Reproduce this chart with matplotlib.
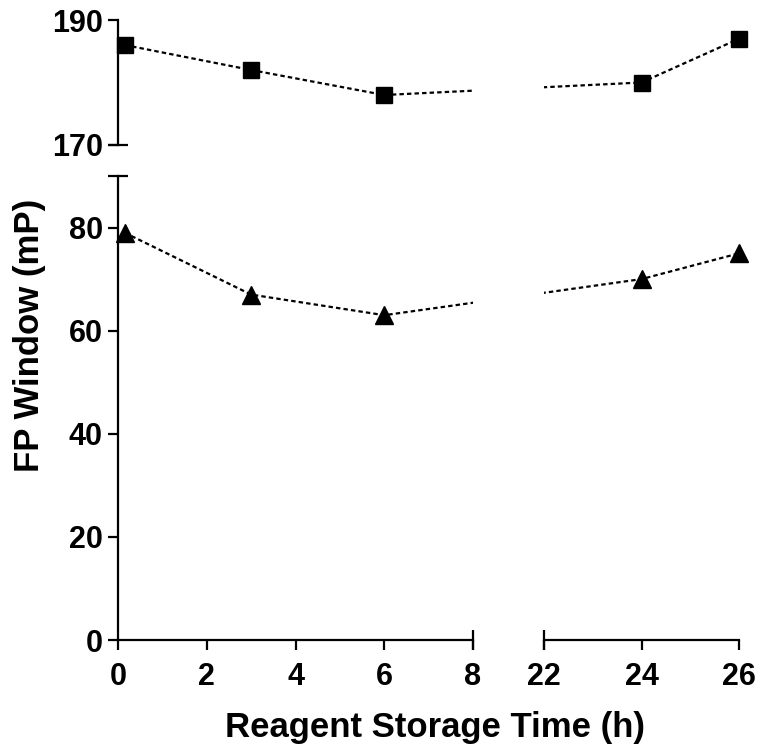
import numpy as np
import matplotlib.pyplot as plt

plt.rcParams['font.family'] = ['Liberation Sans', 'DejaVu Sans']
plt.rcParams['font.weight'] = 'bold'

# data
time_h = [0.15, 3, 6, 24, 26]
fp_square = [186, 182, 178, 180, 187]
fp_triangle = [79, 67, 63, 70, 75]

x_left_ticks = [0, 2, 4, 6, 8]
x_right_ticks = [22, 24, 26]
y_low_ticks = [0, 20, 40, 60, 80]
y_high_ticks = [170, 190]

W, H = 764, 747
fig = plt.figure(figsize=(W / 100, H / 100), dpi=100)


def box(x0, y0, x1, y1):
    # pixel box (from top-left) -> figure fraction
    return [x0 / W, 1 - y1 / H, (x1 - x0) / W, (y1 - y0) / H]


ax_tl = fig.add_axes(box(118, 20, 473, 145))
ax_tr = fig.add_axes(box(544, 20, 739, 145))
ax_bl = fig.add_axes(box(118, 176, 473, 640))
ax_br = fig.add_axes(box(544, 176, 739, 640))

for ax in (ax_tl, ax_bl):
    ax.set_xlim(0, 8)
for ax in (ax_tr, ax_br):
    ax.set_xlim(22, 26)
for ax in (ax_tl, ax_tr):
    ax.set_ylim(170, 190)
for ax in (ax_bl, ax_br):
    ax.set_ylim(0, 90)

for ax in (ax_tl, ax_tr, ax_bl, ax_br):
    for s in ax.spines.values():
        s.set_visible(False)
        s.set_linewidth(1.6)
    ax.xaxis.remove_overlapping_locs = False
    ax.yaxis.remove_overlapping_locs = False
    ax.set_xticks([])
    ax.set_yticks([])

ax_tl.spines['left'].set_visible(True)
ax_tl.set_yticks(y_high_ticks)
ax_tl.set_yticks([170], minor=True)

ax_bl.spines['left'].set_visible(True)
ax_bl.spines['bottom'].set_visible(True)
ax_bl.set_yticks(y_low_ticks)
ax_bl.set_xticks(x_left_ticks)
ax_bl.set_yticks([90], minor=True)
ax_bl.set_xticks([8], minor=True)

ax_br.spines['bottom'].set_visible(True)
ax_br.set_xticks(x_right_ticks)
ax_br.set_xticks([22], minor=True)

for ax in (ax_tl, ax_tr, ax_bl, ax_br):
    ax.tick_params(width=1.6, length=7, labelsize=22, pad=4)
    ax.tick_params(axis='x', pad=9)
    ax.tick_params(which='minor', width=1.6, length=14, direction='inout')
    for lab in ax.get_xticklabels() + ax.get_yticklabels():
        lab.set_fontweight('bold')


def draw(ax_l, ax_r, vals, marker, ms):
    t = np.array(time_h)
    v = np.array(vals)
    lm = t <= 8
    rm = t >= 22
    # continue the dashed line across the gap in screen space
    p_r0 = ax_l.transData.inverted().transform(
        ax_r.transData.transform((t[rm][0], v[rm][0])))
    p_l1 = ax_r.transData.inverted().transform(
        ax_l.transData.transform((t[lm][-1], v[lm][-1])))
    ls = dict(color='black', lw=1.6, linestyle=(0, (2, 1.4)))
    ax_l.plot(list(t[lm]) + [p_r0[0]], list(v[lm]) + [p_r0[1]], **ls)
    ax_r.plot([p_l1[0]] + list(t[rm]), [p_l1[1]] + list(v[rm]), **ls)
    for ax, m in ((ax_l, lm), (ax_r, rm)):
        ax.plot(t[m], v[m], linestyle='none', marker=marker, ms=ms,
                color='black', clip_on=False, zorder=3)


draw(ax_tl, ax_tr, fp_square, 's', 11)
draw(ax_bl, ax_br, fp_triangle, '^', 12.5)

fig.text(435 / W, 1 - 727 / H, 'Reagent Storage Time (h)', ha='center',
         va='center', fontsize=25, fontweight='bold')
fig.text(30 / W, 1 - 335 / H, 'FP Window (mP)', ha='center', va='center',
         rotation=90, fontsize=25, fontweight='bold')

fig.savefig('out.png', dpi=100)
